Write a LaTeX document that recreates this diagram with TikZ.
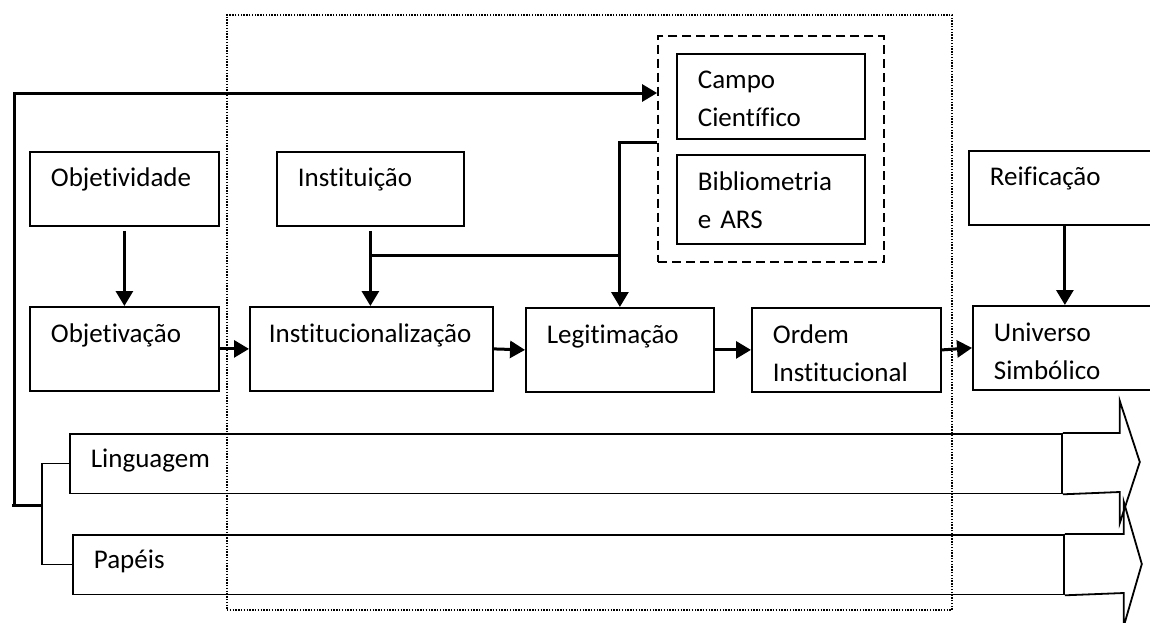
\documentclass[tikz,border=0pt]{standalone}
\usepackage{fontspec}
\setmainfont[Ligatures={CommonOff}]{Carlito}
\usetikzlibrary{arrows.meta,fit}

\begin{document}
\begin{tikzpicture}[
    x=0.5pt, y=-0.5pt,
    box/.style = {
        rectangle,
        draw=black,
        line width=0.9pt,
        anchor=north west,
        align=left,
        inner xsep=10.5pt,
        inner ysep=0pt,
        font=\fontsize{13.5}{18.75}\selectfont
    },
    rowtop/.style = {box, text height=17.5pt, text depth=19.5pt},
    rowbottom/.style = {box, text height=18pt, text depth=24pt},
    bandbox/.style = {box, text height=17pt, text depth=12.75pt},
    arrow/.style = {
        -{Triangle[length=7.5pt,width=8.5pt]},
        line width=1.5pt,
        draw=black
    },
    trunk/.style = {line width=1.5pt, draw=black},
    branch/.style = {line width=0.75pt, draw=black},
    banner/.style = {line width=0.9pt, draw=black, line join=miter}
]

\useasboundingbox (0,0) rectangle (1150,622);
\clip (0,0) rectangle (1150,622);

% upper row
\node (objtv) [rowtop, text width=73.5pt] at (29,151) {Objetividade};
\node (inst) [rowtop, text width=72.5pt] at (276,151) {Instituição};
\node (reif) [rowtop, text width=75pt] at (968,150) {Reificação};

% lower row
\node (objtc) [rowbottom, text width=73.5pt] at (29,306) {Objetivação};
\node (instz) [rowbottom, inner xsep=9.5pt, text width=102.5pt] at (249,306) {Institucionalização};
\node (legit) [rowbottom, text width=73pt] at (525,307) {Legitimação};
\node (ordem) [rowbottom, text width=73.5pt] at (751,307) {Ordem\\Institucional};
\node (univ) [rowbottom, text width=71pt] at (972,305) {Universo\\Simbólico};

% dashed group
\node (campo) [box, text height=17.5pt, text depth=25pt, text width=73pt] at (676,53) {Campo\\Científico};
\node (biblio) [box, text height=18pt, text depth=26.5pt, text width=73pt] at (676,154) {Bibliometria\\e ARS};
\node (grupo) [draw, line width=0.9pt, dash pattern=on 4.5pt off 2.5pt,
    inner xsep=9pt, inner ysep=8.5pt, fit=(campo)(biblio)] {};

% dotted frame
\node (nucleo) [draw, dash pattern=on 0.7pt off 0.7pt, line width=0.9pt, anchor=north west,
    minimum width=362.5pt, minimum height=297.5pt, inner sep=0pt] at (226,14) {};

% bands
\node (ling) [bandbox, text width=475pt] at (69,433) {Linguagem};
\node (pap) [bandbox, text width=474.5pt] at (72,534) {Papéis};

\draw [banner] (ling.north east) -- ++(57,0) -- ++(0,-32) -- ++(20,61)
    -- ++(-20,61) -- ++(0,-31) -- (ling.south east);
\draw [banner] (pap.north east) -- ++(59,0) -- ++(0,-32) -- ++(18,62)
    -- ++(-18,62) -- ++(0,-33) -- (pap.south east);

\coordinate (nivel) at (0,255);
\coordinate (alto) at (0,142);
\coordinate (juncao) at (inst.south |- nivel);
\coordinate (raiz) at (14,505);
\coordinate (topo) at (14,93);
\coordinate (pe) at (12,505);
\coordinate (ramo) at (42,505);

\draw [arrow, shorten <=2pt] (objtv.south) -- (objtc.north);
\draw [arrow, shorten <=2pt] (inst.south) -- (inst.south |- instz.north);
\draw [trunk] (juncao) -- (juncao -| legit.north);
\draw [arrow] (grupo.west |- alto) -- (legit.north |- alto) -- (legit.north);
\draw [arrow] (reif.south) -- (univ.north);

\draw [arrow] (objtc.east) -- (instz.west);
\draw [arrow] (instz.east) -- (legit.west);
\draw [arrow] (legit.east) -- (ordem.west);
\draw [arrow] (ordem.east) -- (univ.west);

\draw [arrow] (raiz) -- (topo) -- (topo -| grupo.west);
\draw [trunk] (pe) -- (ramo);
\draw [branch] (ling.west) -| (ramo) |- (pap.west);

\end{tikzpicture}
\end{document}
